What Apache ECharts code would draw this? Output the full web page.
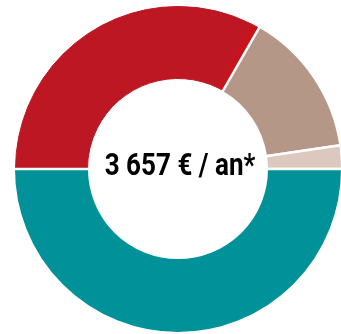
<!DOCTYPE html>
<html><head><meta charset="utf-8">
<script src="https://cdn.jsdelivr.net/npm/echarts@6/dist/echarts.min.js"></script>
<style>html,body{margin:0;padding:0;background:#fff}#c{width:341px;height:334px}</style>
</head><body><div id="c"></div>
<script>
const categories = ['Rouge', 'Rouge vif', 'Beige', 'Rose pâle', 'Turquoise'];
const values = [32.4, 0.9, 14.4, 2.3, 50.0];
const colors = ['#BC1723', '#C9131A', '#B59788', '#DCC8BF', '#009298'];
const centerLabel = '3 657 € / an*';

// first two slices are drawn without white gap between them,
// the others with white separators on top
const borderless = [true, true, false, false, false];
const clear = 'rgba(0,0,0,0)';

const chart = echarts.init(document.getElementById('c'), null, {renderer: 'canvas'});
chart.setOption({
  animation: false,
  series: [{
    type: 'pie', z: 2,
    center: [178, 169],
    radius: [90.5, 162.5],
    startAngle: 180, clockwise: true,
    label: {show: false}, labelLine: {show: false},
    emphasis: {disabled: true}, silent: true,
    data: categories.map((c, i) => ({
      name: c, value: values[i],
      itemStyle: borderless[i]
        ? {color: colors[i], borderColor: colors[i], borderWidth: 1}
        : {color: clear, borderWidth: 0}
    }))
  }, {
    type: 'pie', z: 3,
    center: [178, 169],
    radius: [88.75, 164.25],
    startAngle: 180, clockwise: true,
    label: {show: false}, labelLine: {show: false},
    emphasis: {disabled: true}, silent: true,
    data: categories.map((c, i) => ({
      name: c, value: values[i],
      itemStyle: borderless[i]
        ? {color: clear, borderWidth: 0}
        : {color: colors[i], borderColor: '#fff', borderWidth: 2.5}
    }))
  }],
  graphic: [{
    type: 'text',
    x: 180, y: 167,
    scaleX: 0.84,
    originX: 0, originY: 0,
    style: {
      text: centerLabel,
      font: 'bold 31px Roboto',
      fill: '#000',
      align: 'center',
      verticalAlign: 'middle'
    }
  }]
});
</script></body></html>
